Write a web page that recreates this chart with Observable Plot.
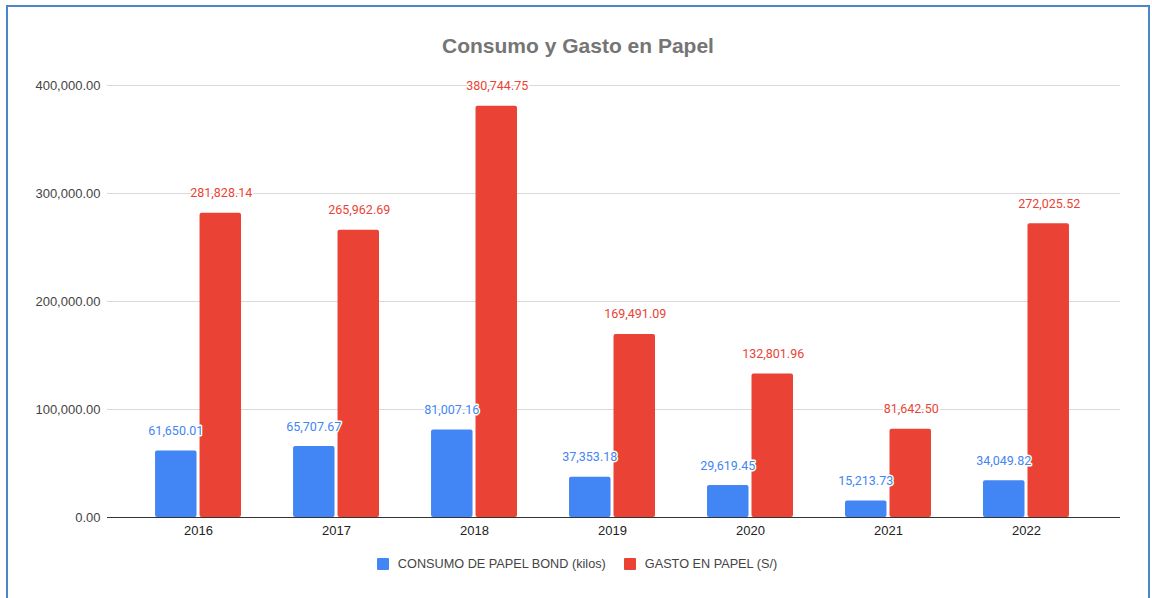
<!DOCTYPE html>
<html>
<head>
<meta charset="utf-8">
<script src="https://cdn.jsdelivr.net/npm/d3@7"></script>
<script src="https://cdn.jsdelivr.net/npm/@observablehq/plot@0.6"></script>
<style>
  html, body { margin: 0; padding: 0; background: #fff; }
  body { width: 1152px; height: 598px; position: relative; overflow: hidden; font-family: "Liberation Sans", Arial, sans-serif; }
  #frame { position: absolute; left: 6px; top: 5px; width: 1144px; height: 620px; border: 2px solid #4a86c8; box-sizing: border-box; pointer-events: none; }
  #title { height: 65px; box-sizing: border-box; padding-top: 34px; text-align: center; font-size: 21px; font-weight: bold; color: #757575; line-height: 24px; padding-left: 4px; }
  #legend { display: flex; justify-content: center; align-items: center; gap: 18px; margin-top: 12px; font-size: 12.7px; color: #444; padding-left: 2px; }
  #legend .item { display: flex; align-items: center; gap: 9px; }
  #legend .sw { width: 12px; height: 12px; border-radius: 1px; }
</style>
</head>
<body>
<div id="frame"></div>
<div id="title">Consumo y Gasto en Papel</div>
<div id="chart"></div>
<div id="legend"></div>
<script>
const years = ["2016", "2017", "2018", "2019", "2020", "2021", "2022"];
const consumo = [61650.01, 65707.67, 81007.16, 37353.18, 29619.45, 15213.73, 34049.82];
const gasto = [281828.14, 265962.69, 380744.75, 169491.09, 132801.96, 81642.50, 272025.52];
const seriesNames = ["CONSUMO DE PAPEL BOND (kilos)", "GASTO EN PAPEL (S/)"];
const seriesColors = ["#4285f4", "#ea4335"];
const yTicks = [0, 100000, 200000, 300000, 400000];

const fmt = d3.format(",.2f");
const dataC = years.map((y, i) => ({year: y, value: consumo[i]}));
const dataG = years.map((y, i) => ({year: y, value: gasto[i]}));

const width = 1152;
const mL = 107, mR = 32;
const pi = 0.377, po = 0.359;
const step = (width - mL - mR) / (7 - pi + 2 * po);
const bw = step * (1 - pi);
const half = bw / 2;
const gap = 1.5;

const chart = Plot.plot({
  width: width,
  height: 480,
  marginLeft: mL,
  marginRight: mR,
  marginTop: 20,
  marginBottom: 28,
  style: { fontFamily: "'Liberation Sans', Arial, sans-serif", fontSize: "13px", color: "#444", background: "transparent" },
  x: { domain: years, paddingInner: pi, paddingOuter: po, align: 0.485, round: false, label: null },
  y: { domain: [0, 400000], ticks: yTicks, tickFormat: fmt, label: null },
  marks: [
    Plot.ruleY(yTicks.filter(d => d > 0), { stroke: "#d9d9d9", strokeWidth: 1 }),
    Plot.barY(dataC, { x: "year", y: "value", fill: seriesColors[0], insetRight: half + gap, rx: 2 }),
    Plot.barY(dataG, { x: "year", y: "value", fill: seriesColors[1], insetLeft: half + gap, rx: 2 }),
    Plot.ruleY([0], { stroke: "#333", strokeWidth: 1.2 }),
    Plot.text(dataC, { x: "year", y: "value", text: d => fmt(d.value), dx: -(half + gap) / 2 - 0.5, dy: -20, fill: seriesColors[0], stroke: "white", strokeWidth: 3, fontSize: 12.5, fontFamily: "Roboto, sans-serif" }),
    Plot.text(dataG, { x: "year", y: "value", text: d => fmt(d.value), dx: (half + gap) / 2 + 0.5, dy: -20, fill: seriesColors[1], stroke: "white", strokeWidth: 3, fontSize: 12.5, fontFamily: "Roboto, sans-serif" }),
    Plot.axisX({ tickSize: 0, tickPadding: 8, fill: "#222", fontSize: 13 }),
    Plot.axisY({ ticks: yTicks, tickFormat: fmt, tickSize: 0, tickPadding: 7, fill: "#444", fontSize: 13 })
  ],
  axis: null
});
document.getElementById("chart").appendChild(chart);

const legend = document.getElementById("legend");
seriesNames.forEach((name, i) => {
  const item = document.createElement("div");
  item.className = "item";
  const sw = document.createElement("div");
  sw.className = "sw";
  sw.style.background = seriesColors[i];
  const label = document.createElement("span");
  label.textContent = name;
  item.appendChild(sw);
  item.appendChild(label);
  legend.appendChild(item);
});
</script>
</body>
</html>
